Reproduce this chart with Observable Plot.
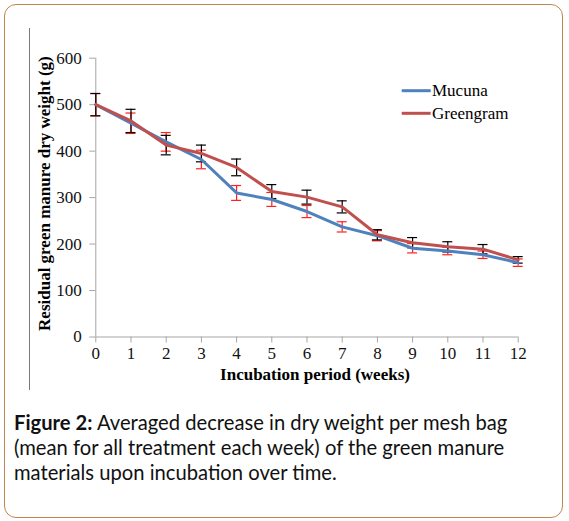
<!DOCTYPE html>
<html><head><meta charset="utf-8">
<script src="https://cdn.jsdelivr.net/npm/d3@7"></script>
<script src="https://cdn.jsdelivr.net/npm/@observablehq/plot@0.6"></script>
<style>
body{margin:0;background:#fff;}
#wrap{position:relative;width:569px;height:521px;overflow:hidden;background:#fff;}
#frame{position:absolute;left:4px;top:3.5px;width:557px;height:512px;border:1.5px solid #bf8550;border-radius:12px;}
#vline{position:absolute;left:28.5px;top:27.5px;width:1.5px;height:362px;background:#7a7a7a;}
#chart{position:absolute;left:0;top:0;}
#chart g[aria-label="x-axis tick label"], #chart g[aria-label="y-axis tick label"]{font-size:17px !important;}
#caption{position:absolute;left:14px;top:410px;width:545px;font-family:Lato,"Open Sans",sans-serif;font-size:20.2px;line-height:25px;color:#111;white-space:nowrap;}
</style></head><body>
<div id="wrap">
 <div id="frame"></div>
 <div id="vline"></div>
 <div id="chart"></div>
 <div id="caption"><b>Figure 2:</b> Averaged decrease in dry weight per mesh bag<br>(mean for all treatment each week) of the green manure<br>materials upon incubation over time.</div>
</div>
<script>
const weeks = [0,1,2,3,4,5,6,7,8,9,10,11,12];
const mucuna = [500,460,420,382,310,296,270,237,218,191,185,177,160];
const greengram = [500,465,413,395,365,313,301,280,220,203,194,189,166];
const mucunaErr = [24,22,20,20,16,15,13,11,11,10,8,8,8];
const greengramErr = [24,25,21,18,18,15,15,13,11,11,11,10,7];
const yTicks = [0,100,200,300,400,500,600];
const seriesNames = ["Mucuna","Greengram"];
const seriesColors = ["#4f81bd","#c0504d"];
const errColors = ["#ff2020","#000000"];

const rows = [];
weeks.forEach((w,i)=>{
  rows.push({week:w, series:"Mucuna", value:mucuna[i], err:mucunaErr[i]});
  rows.push({week:w, series:"Greengram", value:greengram[i], err:greengramErr[i]});
});
const muc = rows.filter(d=>d.series==="Mucuna");
const grn = rows.filter(d=>d.series==="Greengram");

function errMarks(data, color){
  return [
    Plot.ruleX(data, {x:"week", y1:d=>d.value-d.err, y2:d=>d.value+d.err, stroke:color, strokeWidth:1.2}),
    Plot.ruleY(data, {y:d=>d.value-d.err, x1:"week", x2:"week", insetLeft:-5, insetRight:-5, stroke:color, strokeWidth:1.2}),
    Plot.ruleY(data, {y:d=>d.value+d.err, x1:"week", x2:"week", insetLeft:-5, insetRight:-5, stroke:color, strokeWidth:1.2})
  ];
}

const serif = "'Liberation Serif','Times New Roman',serif";
const chart = Plot.plot({
  width:569, height:400,
  marginLeft:95.3, marginRight:51.3, marginTop:57.7, marginBottom:63.5,
  style:{fontFamily:serif, fontSize:"17px", color:"#000", background:"transparent", overflow:"visible"},
  x:{domain:[0,12]},
  y:{domain:[0,600]},
  marks:[
    Plot.ruleX([0], {y1:0, y2:600, stroke:"#a6a6a6"}),
    Plot.ruleY([0], {stroke:"#a6a6a6"}),
    Plot.axisX({ticks:weeks, tickSize:6, tickPadding:4, stroke:"#a6a6a6", fill:"#111", fontSize:17, tickFormat:d=>String(d), label:null}),
    Plot.axisY({ticks:yTicks, tickSize:6, tickPadding:8, stroke:"#a6a6a6", fill:"#111", fontSize:17, tickFormat:d=>String(d), label:null}),
    ...errMarks(muc, errColors[0]),
    ...errMarks(grn, errColors[1]),
    Plot.line(muc, {x:"week", y:"value", stroke:seriesColors[0], strokeWidth:3}),
    Plot.line(grn, {x:"week", y:"value", stroke:seriesColors[1], strokeWidth:3}),
    Plot.text(["Incubation period (weeks)"], {frameAnchor:"bottom", textAnchor:"middle", lineAnchor:"middle", dx:8, dy:37.5, fontWeight:"bold", fontSize:17, fill:"#000"}),
    Plot.text(["Residual green manure dry weight (g)"], {frameAnchor:"left", textAnchor:"middle", lineAnchor:"middle", dx:-51.3, dy:-4, rotate:-90, fontWeight:"bold", fontSize:17, fill:"#000"})
  ]
});
document.getElementById("chart").appendChild(chart);

// legend
const svg = d3.select(chart);
const lg = svg.append("g").attr("font-family",serif).attr("font-size",17).attr("text-anchor","start");
seriesNames.forEach((name,i)=>{
  const y = 90.7 + i*22.6;
  lg.append("line").attr("x1",401.7).attr("x2",430.7).attr("y1",y).attr("y2",y).attr("stroke",seriesColors[i]).attr("stroke-width",3);
  lg.append("text").attr("x",432).attr("y",y).attr("dy","0.32em").attr("fill","#000").text(name);
});
</script>
</body></html>
